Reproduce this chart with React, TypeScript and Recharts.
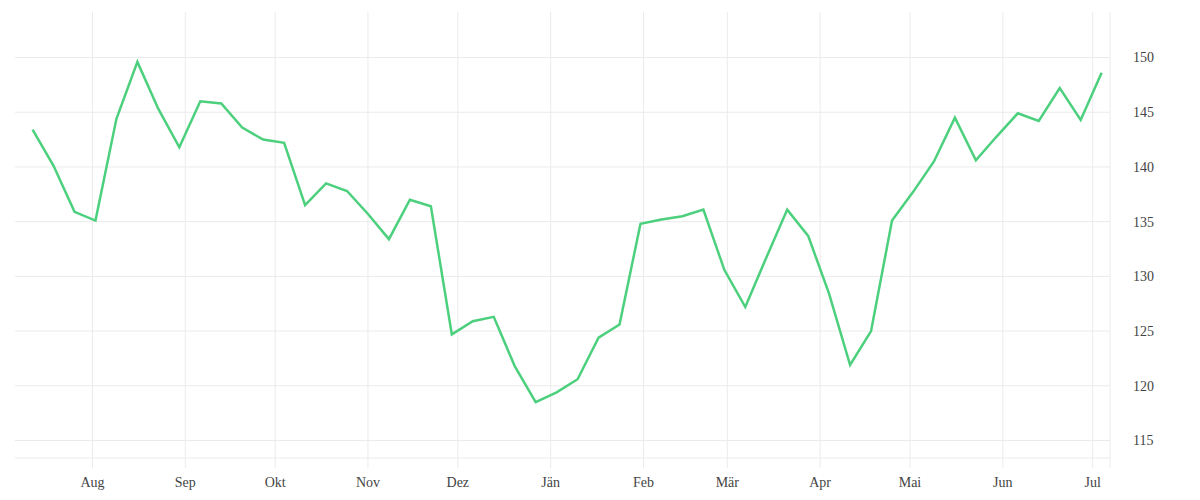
import { LineChart, Line, XAxis, YAxis, CartesianGrid } from 'recharts';

// weekly closing values, Jul 2022 – Jul 2023
const weeks: string[] = [
  '2022-07-12', '2022-07-19', '2022-07-26', '2022-08-02', '2022-08-09', '2022-08-16',
  '2022-08-23', '2022-08-30', '2022-09-06', '2022-09-13', '2022-09-20', '2022-09-27',
  '2022-10-04', '2022-10-11', '2022-10-18', '2022-10-25', '2022-11-01', '2022-11-08',
  '2022-11-15', '2022-11-22', '2022-11-29', '2022-12-06', '2022-12-13', '2022-12-20',
  '2022-12-27', '2023-01-03', '2023-01-10', '2023-01-17', '2023-01-24', '2023-01-31',
  '2023-02-07', '2023-02-14', '2023-02-21', '2023-02-28', '2023-03-07', '2023-03-14',
  '2023-03-21', '2023-03-28', '2023-04-04', '2023-04-11', '2023-04-18', '2023-04-25',
  '2023-05-02', '2023-05-09', '2023-05-16', '2023-05-23', '2023-05-30', '2023-06-06',
  '2023-06-13', '2023-06-20', '2023-06-27', '2023-07-04',
];

const values: number[] = [
  143.4, 140.1, 135.9, 135.1, 144.4, 149.6, 145.3, 141.8, 146.0, 145.8, 143.6, 142.5,
  142.2, 136.5, 138.5, 137.8, 135.7, 133.4, 137.0, 136.4, 124.7, 125.9, 126.3, 121.8,
  118.5, 119.4, 120.6, 124.4, 125.6, 134.8, 135.2, 135.5, 136.1, 130.6, 127.2, 131.7,
  136.1, 133.7, 128.4, 121.9, 125.0, 135.1, 137.7, 140.5, 144.5, 140.6, 142.8, 144.9,
  144.2, 147.2, 144.3, 148.6,
];

const monthTicks: string[] = [
  '2022-08-01', '2022-09-01', '2022-10-01', '2022-11-01', '2022-12-01', '2023-01-01',
  '2023-02-01', '2023-03-01', '2023-04-01', '2023-05-01', '2023-06-01', '2023-07-01',
];
const monthLabels: string[] = ['Aug', 'Sep', 'Okt', 'Nov', 'Dez', 'Jän', 'Feb', 'Mär', 'Apr', 'Mai', 'Jun', 'Jul'];

const yTicks: number[] = [115, 120, 125, 130, 135, 140, 145, 150];

const xMin = Date.UTC(2022, 6, 6, 3);
const xMax = Date.UTC(2023, 6, 6, 19);

const toMs = (d: string) => Date.parse(d + 'T00:00:00Z');

const data = weeks.map((d, i) => ({ t: toMs(d), value: values[i] }));
// extra unlabeled tick at the right edge gives the closing vertical line
const xTicks = [...monthTicks.map(toMs), xMax];

const labelFor = (v: number) => {
  const idx = monthTicks.findIndex((m) => toMs(m) === v);
  return idx >= 0 ? monthLabels[idx] : '';
};

const grid = '#ebebeb';
const font = { fontFamily: '"Liberation Serif", serif', fontSize: 14, fill: '#444' };

export default function App() {
  return (
    <LineChart width={1184} height={484} data={data} margin={{ top: 4, right: 22, bottom: 4, left: 7 }}>
      <CartesianGrid stroke={grid} strokeWidth={1} syncWithTicks />
      <XAxis
        dataKey="t"
        type="number"
        scale="linear"
        domain={[xMin, xMax]}
        ticks={xTicks}
        interval={0}
        tickFormatter={labelFor}
        height={30}
        tickSize={10}
        tickMargin={9}
        tickLine={{ stroke: grid }}
        axisLine={{ stroke: grid }}
        tick={font}
        allowDataOverflow
      />
      <YAxis
        orientation="right"
        type="number"
        domain={[113.4, 154.16]}
        ticks={yTicks}
        interval={0}
        width={60}
        tickSize={0}
        tickMargin={23}
        tickLine={false}
        axisLine={false}
        tick={font}
        allowDataOverflow
      />
      <Line
        type="linear"
        dataKey="value"
        stroke="#4cd07d"
        strokeWidth={2.5}
        dot={false}
        isAnimationActive={false}
      />
    </LineChart>
  );
}
